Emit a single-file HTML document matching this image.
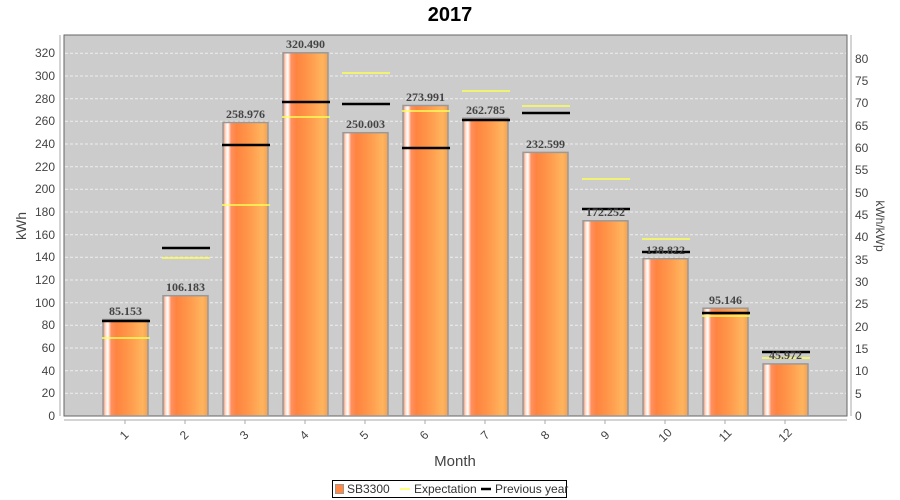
<!DOCTYPE html>
<html><head><meta charset="utf-8"><style>body{margin:0;background:#fff}svg{display:block}</style></head><body>
<svg width="900" height="500" xmlns="http://www.w3.org/2000/svg" font-family="Liberation Sans, sans-serif">
<defs>
<linearGradient id="g" x1="0" x2="1" y1="0" y2="0">
<stop offset="0" stop-color="#f5845a"/>
<stop offset="0.06" stop-color="#fde0d0"/>
<stop offset="0.11" stop-color="#ffffff"/>
<stop offset="0.18" stop-color="#ff9060"/>
<stop offset="0.3" stop-color="#ff8440"/>
<stop offset="0.6" stop-color="#ff9a4c"/>
<stop offset="0.88" stop-color="#ffb45e"/>
<stop offset="1" stop-color="#f5a050"/>
</linearGradient>
</defs>
<text x="450" y="21" text-anchor="middle" font-size="20" font-weight="bold">2017</text>
<rect x="64" y="35" width="783" height="381" fill="#cccccc" stroke="#666" stroke-width="1"/>
<g stroke="#eee" stroke-dasharray="3,2" stroke-width="1">
<line x1="65" x2="846" y1="393.3" y2="393.3"/><line x1="65" x2="846" y1="370.7" y2="370.7"/><line x1="65" x2="846" y1="348" y2="348"/><line x1="65" x2="846" y1="325.3" y2="325.3"/><line x1="65" x2="846" y1="302.7" y2="302.7"/><line x1="65" x2="846" y1="280" y2="280"/><line x1="65" x2="846" y1="257.3" y2="257.3"/><line x1="65" x2="846" y1="234.7" y2="234.7"/><line x1="65" x2="846" y1="212" y2="212"/><line x1="65" x2="846" y1="189.3" y2="189.3"/><line x1="65" x2="846" y1="166.7" y2="166.7"/><line x1="65" x2="846" y1="144" y2="144"/><line x1="65" x2="846" y1="121.3" y2="121.3"/><line x1="65" x2="846" y1="98.7" y2="98.7"/><line x1="65" x2="846" y1="76" y2="76"/><line x1="65" x2="846" y1="53.3" y2="53.3"/>
</g>
<g stroke="#aaa"><line x1="60" x2="60" y1="35" y2="416"/><line x1="851" x2="851" y1="35" y2="416"/><line x1="64" x2="847" y1="420" y2="420"/></g>
<g font-size="12" fill="#444" text-anchor="end">
<text x="55" y="420">0</text><text x="55" y="397">20</text><text x="55" y="375">40</text><text x="55" y="352">60</text><text x="55" y="329">80</text><text x="55" y="307">100</text><text x="55" y="284">120</text><text x="55" y="261">140</text><text x="55" y="239">160</text><text x="55" y="216">180</text><text x="55" y="193">200</text><text x="55" y="171">220</text><text x="55" y="148">240</text><text x="55" y="125">260</text><text x="55" y="103">280</text><text x="55" y="80">300</text><text x="55" y="57">320</text>
</g>
<g font-size="12" fill="#444">
<text x="855" y="420">0</text><text x="855" y="398">5</text><text x="855" y="375">10</text><text x="855" y="353">15</text><text x="855" y="331">20</text><text x="855" y="308">25</text><text x="855" y="286">30</text><text x="855" y="264">35</text><text x="855" y="241">40</text><text x="855" y="219">45</text><text x="855" y="197">50</text><text x="855" y="174">55</text><text x="855" y="152">60</text><text x="855" y="130">65</text><text x="855" y="107">70</text><text x="855" y="85">75</text><text x="855" y="63">80</text>
</g>
<text transform="translate(26,226) rotate(-90)" text-anchor="middle" font-size="14" fill="#444">kWh</text>
<text transform="translate(876,226) rotate(90)" text-anchor="middle" font-size="12" fill="#444">kWh/kWp</text>
<text x="455" y="466" text-anchor="middle" font-size="15" fill="#444">Month</text>
<g stroke="#999" stroke-width="1.5" fill="url(#g)">
<rect x="103" y="319.5" width="45" height="96.5"/><rect x="163" y="295.7" width="45" height="120.3"/><rect x="223" y="122.5" width="45" height="293.5"/><rect x="283" y="52.8" width="45" height="363.2"/><rect x="343" y="132.7" width="45" height="283.3"/><rect x="403" y="105.5" width="45" height="310.5"/><rect x="463" y="118.2" width="45" height="297.8"/><rect x="523" y="152.4" width="45" height="263.6"/><rect x="583" y="220.8" width="45" height="195.2"/><rect x="643" y="258.7" width="45" height="157.3"/><rect x="703" y="308.2" width="45" height="107.8"/><rect x="763" y="363.9" width="45" height="52.1"/>
</g>
<g stroke="#ffff55" stroke-width="1.5">
<line x1="102" x2="150" y1="338" y2="338"/><line x1="162" x2="210" y1="258" y2="258"/><line x1="222" x2="270" y1="205" y2="205"/><line x1="282" x2="330" y1="117" y2="117"/><line x1="342" x2="390" y1="73" y2="73"/><line x1="402" x2="450" y1="111" y2="111"/><line x1="462" x2="510" y1="91" y2="91"/><line x1="522" x2="570" y1="106" y2="106"/><line x1="582" x2="630" y1="179" y2="179"/><line x1="642" x2="690" y1="239" y2="239"/><line x1="702" x2="750" y1="316" y2="316"/><line x1="762" x2="810" y1="358" y2="358"/>
</g>
<g stroke="#000" stroke-width="2.5">
<line x1="102" x2="150" y1="321" y2="321"/><line x1="162" x2="210" y1="248" y2="248"/><line x1="222" x2="270" y1="145" y2="145"/><line x1="282" x2="330" y1="102" y2="102"/><line x1="342" x2="390" y1="104" y2="104"/><line x1="402" x2="450" y1="148" y2="148"/><line x1="462" x2="510" y1="120" y2="120"/><line x1="522" x2="570" y1="113" y2="113"/><line x1="582" x2="630" y1="209" y2="209"/><line x1="642" x2="690" y1="252" y2="252"/><line x1="702" x2="750" y1="313" y2="313"/><line x1="762" x2="810" y1="352" y2="352"/>
</g>
<g font-family="Liberation Serif, serif" font-weight="bold" font-size="12" fill="#444" text-anchor="middle">
<text x="125.5" y="315">85.153</text><text x="185.5" y="291">106.183</text><text x="245.5" y="118">258.976</text><text x="305.5" y="48">320.490</text><text x="365.5" y="128">250.003</text><text x="425.5" y="101">273.991</text><text x="485.5" y="114">262.785</text><text x="545.5" y="148">232.599</text><text x="605.5" y="216">172.252</text><text x="665.5" y="254">138.822</text><text x="725.5" y="304">95.146</text><text x="785.5" y="359">45.972</text>
</g>
<g stroke="#aaa"><line x1="125" x2="125" y1="420" y2="424"/><line x1="185" x2="185" y1="420" y2="424"/><line x1="245" x2="245" y1="420" y2="424"/><line x1="305" x2="305" y1="420" y2="424"/><line x1="365" x2="365" y1="420" y2="424"/><line x1="425" x2="425" y1="420" y2="424"/><line x1="485" x2="485" y1="420" y2="424"/><line x1="545" x2="545" y1="420" y2="424"/><line x1="605" x2="605" y1="420" y2="424"/><line x1="665" x2="665" y1="420" y2="424"/><line x1="725" x2="725" y1="420" y2="424"/><line x1="785" x2="785" y1="420" y2="424"/></g>
<g font-size="12" fill="#444" text-anchor="middle">
<text transform="translate(127,438) rotate(-45)">1</text><text transform="translate(187,438) rotate(-45)">2</text><text transform="translate(247,438) rotate(-45)">3</text><text transform="translate(307,438) rotate(-45)">4</text><text transform="translate(367,438) rotate(-45)">5</text><text transform="translate(427,438) rotate(-45)">6</text><text transform="translate(488,438) rotate(-45)">7</text><text transform="translate(548,438) rotate(-45)">8</text><text transform="translate(608,438) rotate(-45)">9</text><text transform="translate(668,438) rotate(-45)">10</text><text transform="translate(728,438) rotate(-45)">11</text><text transform="translate(788,438) rotate(-45)">12</text>
</g>
<rect x="332.5" y="480.5" width="234" height="17" fill="#fff" stroke="#000"/>
<rect x="335.5" y="484.5" width="8" height="9" fill="#ff8844" stroke="#999"/>
<text x="347" y="493" font-size="12" fill="#333">SB3300</text>
<line x1="400" x2="410" y1="489" y2="489" stroke="#ffff55" stroke-width="1.5"/>
<text x="414" y="493" font-size="12" fill="#333">Expectation</text>
<line x1="481" x2="491" y1="489" y2="489" stroke="#000" stroke-width="2.5"/>
<text x="495" y="493" font-size="12" fill="#333">Previous year</text>
</svg>
</body></html>
